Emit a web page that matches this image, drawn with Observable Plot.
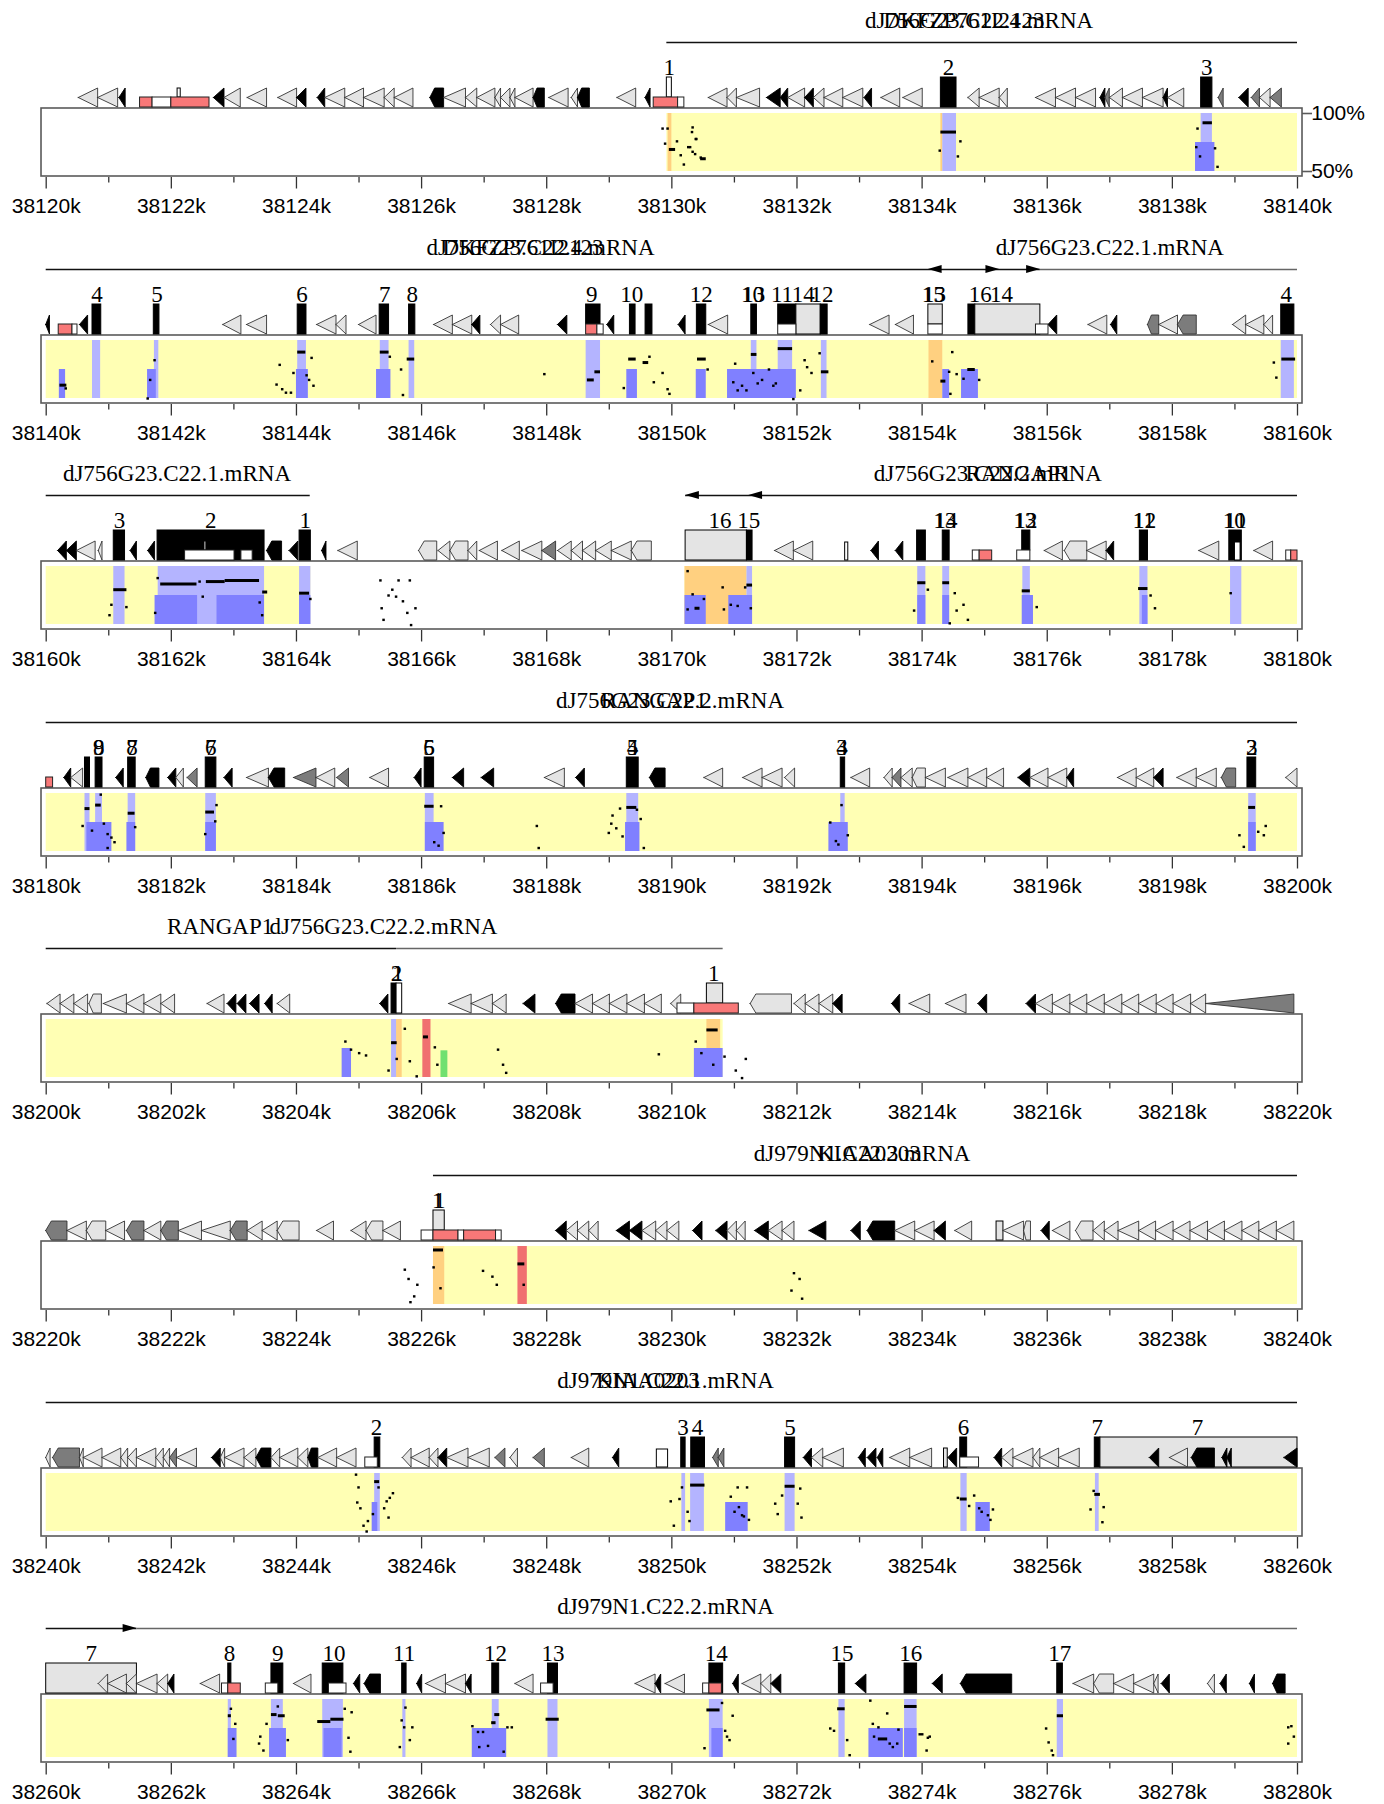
<!DOCTYPE html>
<html><head><meta charset="utf-8">
<script src="https://cdn.jsdelivr.net/npm/d3@7"></script>
<script src="https://cdn.jsdelivr.net/npm/@observablehq/plot@0.6"></script>
<style>
body{margin:0;background:#fff;}
#chart{position:relative;width:1384px;height:1804px;overflow:hidden;}
#chart svg{position:absolute;left:0;overflow:visible;}
</style></head><body><div id="chart"></div>
<script>
// ---------- data (kb offsets within each 20 kb panel) ----------
const panelStarts = [38120, 38140, 38160, 38180, 38200, 38220, 38240, 38260];
const yTicks = [100, 50];

const titles = [
  [0,14.91,"dJ756G23.C22.4.mRNA"],[0,14.67,"DKFZP761I2123"],
  [1,7.9,"dJ756G23.C22.4.mRNA"],[1,7.62,"DKFZP761I2123"],[1,17.0,"dJ756G23.C22.1.mRNA"],
  [2,2.09,"dJ756G23.C22.1.mRNA"],[2,15.05,"dJ756G23.C22.2.mRNA"],[2,15.54,"RANGAP1"],
  [3,9.97,"dJ756G23.C22.2.mRNA"],[3,9.71,"RANGAP1"],
  [4,2.78,"RANGAP1"],[4,5.39,"dJ756G23.C22.2.mRNA"],
  [5,13.04,"dJ979N1.C22.3.mRNA"],[5,13.15,"KIAA0203"],
  [6,9.9,"dJ979N1.C22.1.mRNA"],[6,9.62,"KIAA0203"],
  [7,9.9,"dJ979N1.C22.2.mRNA"]
];

const geneLines = [[0,9.92,20,"k"],[1,0,15.89,"k"],[1,15.89,20,"g"],[2,0,4.22,"k"],[2,10.22,20,"k"],
  [3,0,20,"k"],[4,0,5.6,"k"],[4,5.6,10.82,"g"],[5,6.19,20,"k"],[6,0,20,"k"],[7,0,1.45,"k"],[7,1.45,20,"g"]];
const arrows = [[1,14.1,"L"],[1,15.24,"R"],[1,15.89,"R"],[2,10.22,"L"],[2,11.23,"L"],[7,1.45,"R"]];

const yellowRegions = [[0,9.92,20],[1,0,20],[2,0,4.23],[2,10.21,20],[3,0,20],[4,0,10.82],[5,6.19,20],[6,0,20],[7,0,20]];

const exonLabels = [
  [0,9.96,"1"],[0,14.42,"2"],[0,18.55,"3"],
  [1,0.81,"4"],[1,1.77,"5"],[1,4.09,"6"],[1,5.41,"7"],[1,5.85,"8"],[1,8.72,"9"],[1,9.36,"10"],[1,10.47,"12"],
  [1,11.29,"10"],[1,11.31,"13"],[1,11.76,"11"],[1,12.1,"14"],[1,12.4,"12"],[1,14.18,"15"],[1,14.2,"13"],[1,14.93,"16"],[1,15.27,"14"],[1,19.82,"4"],
  [2,1.17,"3"],[2,2.63,"2"],[2,4.14,"1"],[2,10.77,"16"],[2,11.23,"15"],[2,14.36,"13"],[2,14.38,"14"],
  [2,15.64,"13"],[2,15.66,"12"],[2,17.54,"11"],[2,17.56,"12"],[2,18.99,"10"],[2,19.01,"11"],
  [3,0.84,"9"],[3,0.84,"8"],[3,1.37,"8"],[3,1.37,"7"],[3,2.63,"7"],[3,2.63,"6"],[3,6.12,"6"],[3,6.12,"5"],
  [3,9.37,"5"],[3,9.37,"4"],[3,12.72,"4"],[3,12.72,"3"],[3,19.27,"3"],[3,19.27,"2"],
  [4,5.6,"2"],[4,5.62,"1"],[4,10.67,"1"],
  [5,6.26,"1"],[5,6.29,"1"],
  [6,5.28,"2"],[6,10.18,"3"],[6,10.41,"4"],[6,11.89,"5"],[6,14.66,"6"],[6,16.8,"7"],[6,18.4,"7"],
  [7,0.72,"7"],[7,2.93,"8"],[7,3.7,"9"],[7,4.6,"10"],[7,5.72,"11"],[7,7.18,"12"],[7,8.1,"13"],
  [7,10.71,"14"],[7,12.72,"15"],[7,13.82,"16"],[7,16.2,"17"]
];

const exons = [
  [0,2.10,2.15,"mini"],[0,9.92,10.0,"open"],[0,14.30,14.55,"cod"],[0,18.46,18.64,"cod"],
  [1,0.74,0.88,"cod"],[1,1.72,1.81,"cod"],[1,4.02,4.16,"cod"],[1,5.33,5.48,"cod"],[1,5.8,5.9,"cod"],
  [1,8.63,8.86,"codT"],[1,9.33,9.42,"cod"],[1,9.58,9.69,"cod"],[1,10.4,10.55,"cod"],[1,11.27,11.36,"cod"],
  [1,11.7,11.99,"codT"],[1,11.99,12.38,"utr"],[1,12.38,12.49,"cod"],[1,14.1,14.33,"utrT"],
  [1,14.74,14.85,"cod"],[1,14.85,15.89,"utr"],[1,19.74,19.95,"cod"],
  [2,1.08,1.26,"cod"],[2,1.78,3.49,"cod"],[2,2.53,2.56,"mini"],[2,4.05,4.23,"cod"],[2,10.22,11.2,"utr"],
  [2,11.2,11.29,"cod"],[2,12.77,12.82,"miniF"],[2,13.92,14.06,"cod"],[2,14.33,14.44,"cod"],
  [2,15.6,15.73,"codT"],[2,17.48,17.61,"cod"],[2,18.91,19.11,"cod"],[2,19.0,19.09,"miniF"],
  [3,0.62,0.7,"cod"],[3,0.79,0.9,"cod"],[3,1.31,1.43,"cod"],[3,2.55,2.72,"cod"],[3,6.05,6.2,"cod"],
  [3,9.28,9.47,"cod"],[3,12.7,12.77,"cod"],[3,19.2,19.34,"cod"],
  [4,5.52,5.6,"cod"],[4,5.6,5.69,"openF"],[4,10.56,10.82,"utrT"],
  [5,6.19,6.37,"utrT"],[5,15.19,15.3,"miniL"],
  [6,5.25,5.34,"cod"],[6,9.76,9.94,"miniF"],[6,10.15,10.22,"cod"],[6,10.31,10.53,"cod"],[6,11.81,11.97,"cod"],
  [6,14.35,14.41,"miniL"],[6,14.61,14.72,"cod"],[6,16.76,16.85,"cod"],[6,16.85,20,"utr"],
  [7,0,1.45,"utr"],[7,2.91,2.96,"codT"],[7,3.6,3.79,"cod"],[7,4.42,4.75,"cod"],[7,5.69,5.76,"cod"],
  [7,7.13,7.24,"cod"],[7,8.02,8.18,"cod"],[7,10.6,10.82,"cod"],[7,12.67,12.77,"cod"],[7,13.72,13.92,"cod"],[7,16.16,16.25,"cod"]
];

const cpg = [
  [0,1.5,1.7,"r"],[0,1.7,2.0,"w"],[0,2.0,2.61,"r"],[0,9.71,10.1,"r"],[0,10.1,10.2,"w"],
  [1,0.2,0.42,"r"],[1,0.42,0.5,"w"],[1,8.63,8.81,"r"],[1,8.81,8.91,"w"],[1,11.7,11.99,"w"],[1,14.1,14.33,"w"],[1,15.82,16.02,"w"],
  [2,2.22,3.01,"w"],[2,3.12,3.3,"w"],[2,14.81,14.92,"w"],[2,14.92,15.12,"r"],[2,15.52,15.73,"w"],[2,19.82,19.9,"w"],[2,19.9,20,"r"],
  [3,0,0.11,"r"],
  [4,10.09,10.36,"w"],[4,10.36,11.07,"r"],
  [5,6.0,6.19,"w"],[5,6.19,6.59,"r"],[5,6.59,6.68,"w"],[5,6.68,7.19,"r"],[5,7.19,7.28,"w"],
  [6,5.1,5.3,"w"],[6,14.61,14.91,"w"],
  [7,2.81,2.91,"w"],[7,2.91,3.11,"r"],[7,3.51,3.71,"w"],[7,4.52,4.8,"w"],[7,7.91,8.11,"w"],[7,10.5,10.6,"w"],[7,10.6,10.8,"r"]
];

// repeats: L light, B black, D dark grey; suffix P = blunt (pentagon) shape
const repeats = [
  [0,0.52,0.83,"L"],[0,0.83,1.15,"L"],[0,1.17,1.27,"B"],[0,2.68,2.85,"B"],[0,2.85,3.11,"L"],[0,3.22,3.53,"L"],
  [0,3.71,4.01,"L"],[0,4.01,4.16,"B"],[0,4.34,4.46,"B"],[0,4.46,4.78,"L"],[0,4.78,5.08,"L"],[0,5.08,5.41,"L"],
  [0,5.41,5.57,"L"],[0,5.57,5.87,"L"],[0,6.14,6.36,"BP"],[0,6.36,6.71,"L"],[0,6.71,6.89,"L"],[0,6.89,7.18,"L"],
  [0,7.18,7.27,"L"],[0,7.27,7.42,"L"],[0,7.42,7.5,"L"],[0,7.5,7.79,"L"],[0,7.79,7.97,"BP"],[0,8.04,8.35,"L"],
  [0,8.4,8.5,"L"],[0,8.5,8.69,"BP"],[0,9.13,9.43,"L"],[0,9.58,9.66,"B"],
  [0,10.59,10.89,"L"],[0,10.89,11.04,"L"],[0,11.04,11.41,"L"],[0,11.52,11.74,"B"],[0,11.74,11.86,"B"],[0,11.86,12.13,"L"],
  [0,12.13,12.27,"B"],[0,12.27,12.44,"L"],[0,12.44,12.74,"L"],[0,12.74,13.06,"L"],[0,13.08,13.2,"B"],[0,13.35,13.65,"L"],
  [0,13.7,14.01,"L"],[0,14.74,14.92,"L"],[0,14.92,15.24,"L"],[0,15.24,15.37,"L"],[0,15.82,16.14,"L"],[0,16.14,16.46,"L"],
  [0,16.46,16.78,"L"],[0,16.85,16.93,"B"],[0,16.93,17.0,"D"],[0,17.0,17.21,"L"],[0,17.21,17.53,"L"],[0,17.53,17.86,"L"],
  [0,17.86,17.93,"B"],[0,17.93,18.19,"L"],[0,18.74,18.82,"D"],[0,19.07,19.22,"B"],[0,19.27,19.4,"D"],[0,19.4,19.57,"L"],[0,19.57,19.75,"D"],
  [1,0,0.06,"B"],[1,0.54,0.67,"B"],[1,2.83,3.12,"L"],[1,3.21,3.53,"L"],[1,4.33,4.64,"L"],[1,4.64,4.8,"L"],[1,5.0,5.28,"L"],
  [1,6.2,6.5,"L"],[1,6.5,6.81,"L"],[1,6.81,6.94,"B"],[1,7.11,7.27,"L"],[1,7.27,7.56,"L"],[1,8.18,8.33,"B"],[1,8.97,9.08,"B"],
  [1,10.11,10.22,"B"],[1,10.59,10.9,"L"],[1,13.17,13.48,"L"],[1,13.58,13.87,"L"],[1,16.02,16.16,"B"],[1,16.66,16.96,"L"],
  [1,17.02,17.12,"B"],[1,17.61,17.79,"DP"],[1,17.79,18.09,"L"],[1,18.09,18.39,"DP"],[1,18.97,19.18,"L"],[1,19.18,19.47,"L"],[1,19.47,19.61,"L"],
  [2,0.19,0.33,"B"],[2,0.33,0.49,"B"],[2,0.49,0.79,"L"],[2,0.84,0.9,"L"],[2,1.35,1.45,"B"],[2,1.63,1.74,"B"],[2,3.53,3.77,"BP"],
  [2,3.89,4.03,"B"],[2,4.41,4.48,"B"],[2,4.67,4.98,"L"],[2,5.96,6.25,"LP"],[2,6.27,6.46,"L"],[2,6.46,6.75,"LP"],[2,6.75,6.89,"L"],
  [2,6.93,7.22,"L"],[2,7.29,7.57,"L"],[2,7.61,7.93,"L"],[2,7.93,8.15,"D"],[2,8.18,8.4,"L"],[2,8.4,8.58,"L"],[2,8.58,8.79,"L"],
  [2,8.79,9.04,"L"],[2,9.04,9.36,"L"],[2,9.36,9.68,"LP"],[2,11.65,11.95,"L"],[2,11.95,12.26,"L"],[2,13.19,13.31,"B"],
  [2,13.58,13.7,"B"],[2,15.96,16.25,"L"],[2,16.28,16.64,"LP"],[2,16.64,16.95,"L"],[2,16.95,17.07,"B"],[2,18.43,18.75,"L"],[2,19.31,19.61,"L"],
  [3,0.29,0.4,"B"],[3,0.4,0.59,"L"],[3,1.12,1.24,"B"],[3,1.6,1.81,"BP"],[3,1.95,2.08,"B"],[3,2.08,2.2,"L"],[3,2.26,2.42,"D"],
  [3,2.85,2.98,"B"],[3,3.21,3.56,"L"],[3,3.56,3.82,"BP"],[3,3.96,4.32,"D"],[3,4.32,4.62,"L"],[3,4.65,4.84,"D"],[3,5.18,5.48,"L"],
  [3,5.89,6.0,"B"],[3,6.5,6.68,"B"],[3,6.96,7.16,"B"],[3,7.97,8.29,"L"],[3,8.47,8.61,"B"],[3,9.65,9.9,"BP"],
  [3,10.52,10.82,"L"],[3,11.14,11.45,"L"],[3,11.45,11.77,"L"],[3,11.81,11.97,"L"],[3,12.87,13.17,"L"],[3,13.4,13.53,"L"],
  [3,13.53,13.67,"D"],[3,13.67,13.85,"L"],[3,13.85,14.06,"LP"],[3,14.06,14.38,"L"],[3,14.42,14.74,"L"],[3,14.74,15.04,"L"],
  [3,15.04,15.31,"L"],[3,15.54,15.73,"B"],[3,15.73,16.02,"L"],[3,16.02,16.32,"L"],[3,16.32,16.43,"B"],[3,17.13,17.43,"L"],
  [3,17.43,17.71,"L"],[3,17.71,17.86,"B"],[3,18.08,18.39,"L"],[3,18.39,18.71,"L"],[3,18.79,19.02,"DP"],[3,19.82,20.0,"L"],
  [4,0.02,0.23,"L"],[4,0.23,0.45,"L"],[4,0.45,0.67,"L"],[4,0.69,0.89,"LP"],[4,0.92,1.29,"L"],[4,1.29,1.57,"L"],[4,1.57,1.84,"L"],
  [4,1.84,2.06,"L"],[4,2.58,2.85,"L"],[4,2.9,3.04,"B"],[4,3.06,3.2,"B"],[4,3.26,3.41,"B"],[4,3.5,3.62,"B"],[4,3.7,3.9,"L"],
  [4,5.34,5.47,"B"],[4,6.44,6.8,"L"],[4,6.8,7.14,"L"],[4,7.14,7.36,"L"],[4,7.63,7.82,"B"],[4,8.15,8.46,"BP"],[4,8.46,8.74,"L"],
  [4,8.74,9.01,"L"],[4,9.01,9.29,"L"],[4,9.29,9.57,"L"],[4,9.57,9.84,"L"],[4,9.99,10.15,"L"],[4,11.26,11.92,"LP"],
  [4,11.96,12.14,"L"],[4,12.14,12.36,"L"],[4,12.36,12.58,"L"],[4,12.58,12.73,"B"],[4,13.52,13.65,"B"],[4,13.8,14.13,"L"],
  [4,14.38,14.71,"L"],[4,14.9,15.04,"B"],[4,15.67,15.82,"B"],[4,15.82,16.09,"L"],[4,16.09,16.37,"L"],[4,16.37,16.64,"L"],
  [4,16.64,16.92,"L"],[4,16.92,17.2,"L"],[4,17.2,17.47,"L"],[4,17.47,17.75,"L"],[4,17.75,18.02,"L"],[4,18.02,18.3,"L"],
  [4,18.3,18.54,"L"],[4,18.54,19.95,"D"],
  [5,0,0.34,"DP"],[5,0.34,0.65,"L"],[5,0.65,0.96,"LP"],[5,0.96,1.26,"L"],[5,1.29,1.57,"DP"],[5,1.57,1.84,"L"],[5,1.84,2.12,"DP"],
  [5,2.12,2.49,"L"],[5,2.49,2.95,"L"],[5,2.95,3.22,"DP"],[5,3.22,3.46,"L"],[5,3.46,3.7,"L"],[5,3.7,4.05,"LP"],[5,4.33,4.6,"L"],
  [5,4.88,5.12,"L"],[5,5.12,5.39,"LP"],[5,5.39,5.67,"L"],[5,8.15,8.32,"B"],[5,8.32,8.5,"L"],[5,8.5,8.68,"L"],[5,8.68,8.83,"L"],
  [5,9.12,9.33,"B"],[5,9.33,9.53,"B"],[5,9.53,9.75,"L"],[5,9.75,9.93,"L"],[5,9.93,10.12,"L"],[5,10.34,10.49,"B"],
  [5,10.71,10.89,"B"],[5,10.89,11.04,"L"],[5,11.04,11.18,"L"],[5,11.33,11.55,"B"],[5,11.55,11.77,"L"],[5,11.77,11.96,"L"],
  [5,12.2,12.47,"B"],[5,12.87,13.02,"B"],[5,13.13,13.57,"BP"],[5,13.57,13.89,"L"],[5,13.89,14.2,"L"],[5,14.2,14.38,"B"],
  [5,14.53,14.8,"L"],[5,15.3,15.63,"L"],[5,15.63,15.74,"LP"],[5,15.91,16.04,"B"],[5,16.09,16.37,"L"],[5,16.46,16.74,"LP"],
  [5,16.74,16.92,"L"],[5,16.92,17.14,"L"],[5,17.14,17.47,"L"],[5,17.47,17.74,"L"],[5,17.74,18.02,"L"],[5,18.02,18.29,"L"],
  [5,18.29,18.57,"L"],[5,18.57,18.84,"L"],[5,18.84,19.12,"L"],[5,19.12,19.39,"L"],[5,19.39,19.67,"L"],[5,19.67,19.95,"L"],
  [6,0,0.07,"L"],[6,0.11,0.54,"DP"],[6,0.54,0.6,"L"],[6,0.6,0.9,"L"],[6,0.9,1.2,"L"],[6,1.2,1.31,"L"],[6,1.31,1.45,"L"],
  [6,1.45,1.76,"L"],[6,1.76,1.88,"L"],[6,1.88,1.98,"L"],[6,1.98,2.09,"D"],[6,2.09,2.41,"L"],[6,2.65,2.79,"B"],[6,2.79,2.86,"L"],
  [6,2.86,3.17,"L"],[6,3.17,3.36,"L"],[6,3.36,3.6,"BP"],[6,3.6,3.74,"L"],[6,3.74,4.03,"L"],[6,4.03,4.19,"L"],[6,4.19,4.35,"BP"],
  [6,4.35,4.65,"L"],[6,4.65,4.96,"L"],[6,5.7,5.84,"L"],[6,5.84,6.13,"L"],[6,6.13,6.27,"L"],[6,6.27,6.41,"B"],[6,6.41,6.75,"L"],
  [6,6.75,7.09,"L"],[6,7.18,7.34,"D"],[6,7.42,7.54,"L"],[6,7.79,7.97,"D"],[6,8.4,8.68,"L"],[6,9.06,9.16,"B"],
  [6,10.66,10.75,"D"],[6,10.75,10.84,"D"],[6,12.11,12.24,"B"],[6,12.24,12.42,"L"],[6,12.42,12.75,"L"],[6,12.99,13.1,"B"],
  [6,13.13,13.27,"B"],[6,13.29,13.38,"B"],[6,13.49,13.81,"L"],[6,13.81,14.16,"L"],[6,14.42,14.56,"B"],[6,15.16,15.28,"B"],
  [6,15.28,15.46,"L"],[6,15.46,15.78,"L"],[6,15.78,15.89,"L"],[6,15.89,16.19,"L"],[6,16.19,16.52,"L"],[6,17.64,17.79,"B"],
  [6,17.96,18.25,"L"],[6,18.31,18.68,"BP"],[6,18.8,18.88,"B"],[6,18.88,18.95,"B"],[6,19.79,20,"B"],
  [7,0.84,0.99,"L"],[7,0.99,1.29,"L"],[7,1.29,1.45,"L"],[7,1.45,1.78,"L"],[7,1.78,1.95,"L"],[7,1.95,2.05,"B"],[7,2.47,2.78,"L"],
  [7,3.96,4.24,"L"],[7,4.92,5.02,"B"],[7,5.09,5.35,"BP"],[7,5.93,6.01,"B"],[7,6.07,6.39,"L"],[7,6.39,6.71,"L"],[7,6.71,6.8,"B"],
  [7,7.5,7.79,"L"],[7,9.42,9.74,"L"],[7,9.74,9.83,"B"],[7,9.9,10.21,"L"],[7,10.98,11.07,"B"],[7,11.13,11.43,"L"],[7,11.43,11.59,"L"],
  [7,11.59,11.75,"B"],[7,12.94,13.11,"B"],[7,14.17,14.33,"B"],[7,14.62,15.44,"BP"],[7,16.42,16.75,"L"],[7,16.75,17.07,"LP"],
  [7,17.07,17.39,"L"],[7,17.39,17.71,"L"],[7,17.71,17.78,"L"],[7,17.83,17.96,"B"],[7,18.57,18.68,"L"],[7,18.77,18.87,"B"],
  [7,19.24,19.32,"B"],[7,19.61,19.81,"BP"]
];

// shaded bands in the identity plot
const bands = [
  [0,9.94,10.0,"utr"],[0,14.3,14.33,"utr"],[0,14.33,14.55,"exon"],[0,18.46,18.64,"exon"],[0,18.37,18.68,"cns"],
  [1,0.21,0.31,"cns"],[1,0.74,0.87,"exon"],[1,1.73,1.8,"exon"],[1,1.62,1.76,"cns"],[1,4.02,4.16,"exon"],[1,4.0,4.19,"cns"],
  [1,5.34,5.48,"exon"],[1,5.28,5.51,"cns"],[1,5.8,5.89,"exon"],[1,8.63,8.86,"exon"],[1,9.28,9.45,"cns"],[1,10.39,10.55,"cns"],
  [1,11.27,11.36,"exon"],[1,10.89,11.99,"cns"],[1,11.7,11.93,"exon"],[1,12.39,12.48,"exon"],[1,14.11,14.33,"utr"],
  [1,14.33,14.44,"cns"],[1,14.63,14.9,"cns"],[1,19.74,19.95,"exon"],
  [2,1.08,1.26,"exon"],[2,1.79,3.49,"exon"],[2,1.74,2.42,"cns"],[2,2.73,3.49,"cns"],[2,4.05,4.23,"exon"],[2,4.05,4.23,"cns"],
  [2,10.21,11.2,"utr"],[2,10.21,10.55,"cns"],[2,10.91,11.29,"cns"],[2,11.2,11.29,"exon"],[2,13.93,14.06,"exon"],[2,13.93,14.06,"cns"],
  [2,14.33,14.44,"exon"],[2,14.33,14.44,"cns"],[2,15.61,15.73,"exon"],[2,15.6,15.78,"cns"],[2,17.48,17.61,"exon"],[2,17.52,17.61,"cns"],
  [2,18.93,19.11,"exon"],
  [3,0.62,0.7,"exon"],[3,0.79,0.9,"exon"],[3,0.65,1.05,"cns"],[3,1.31,1.43,"exon"],[3,1.29,1.43,"cns"],[3,2.55,2.72,"exon"],
  [3,2.55,2.72,"cns"],[3,6.06,6.2,"exon"],[3,6.06,6.36,"cns"],[3,9.28,9.47,"exon"],[3,9.26,9.49,"cns"],[3,12.7,12.77,"exon"],
  [3,12.51,12.82,"cns"],[3,19.22,19.34,"exon"],[3,19.22,19.34,"cns"],
  [4,4.73,4.88,"cns"],[4,5.52,5.6,"exon"],[4,5.6,5.69,"utr"],[4,6.02,6.15,"red"],[4,6.31,6.42,"green"],[4,10.56,10.78,"utrT"],[4,10.36,10.82,"cns"],
  [5,6.19,6.37,"utr"],[5,7.54,7.69,"red"],
  [6,5.25,5.34,"exon"],[6,5.21,5.3,"cns"],[6,10.16,10.22,"exon"],[6,10.3,10.52,"exon"],[6,10.86,11.22,"cns"],[6,11.81,11.97,"exon"],
  [6,14.62,14.72,"exon"],[6,14.86,15.09,"cns"],[6,16.77,16.83,"exon"],
  [7,2.91,2.96,"exon"],[7,2.91,3.05,"cns"],[7,3.6,3.79,"exon"],[7,3.57,3.84,"cns"],[7,4.42,4.75,"exon"],[7,4.44,4.73,"cns"],
  [7,5.7,5.75,"exon"],[7,7.13,7.24,"exon"],[7,6.81,7.36,"cns"],[7,8.02,8.18,"exon"],[7,10.6,10.82,"exon"],[7,10.64,10.82,"cns"],
  [7,12.67,12.77,"exon"],[7,13.15,13.7,"cns"],[7,13.72,13.92,"exon"],[7,13.72,13.92,"cns"],[7,16.16,16.26,"exon"]
];

// gap-free alignment segments: [panel, start, end, percent identity]
const segments = [
  [0,9.96,10.06,69],[0,10.46,10.55,61],[0,14.3,14.55,84],[0,18.49,18.64,92],
  [1,0.22,0.33,61.5],[1,4.02,4.15,90],[1,5.34,5.48,90],[1,5.77,5.89,84],[1,8.65,8.76,66],[1,8.77,8.86,73],[1,9.31,9.43,84],
  [1,9.54,9.63,81],[1,10.41,10.55,84],[1,11.27,11.36,88],[1,11.7,11.93,93],[1,12.39,12.51,73],[1,14.3,14.38,65],[1,14.73,14.85,75],[1,19.75,19.97,84],
  [2,1.08,1.29,80],[2,1.83,2.41,85],[2,2.56,2.86,87],[2,2.86,3.41,88],[2,3.46,3.54,78],[2,4.05,4.21,77],[2,10.37,10.45,64],
  [2,11.2,11.29,84],[2,13.93,14.06,86],[2,14.33,14.44,86],[2,15.6,15.73,79],[2,17.46,17.61,81],
  [3,0.62,0.7,87],[3,0.79,0.88,90],[3,1.31,1.42,83],[3,2.55,2.69,84],[3,6.05,6.2,89],[3,9.28,9.44,88],[3,19.22,19.33,88],
  [4,5.52,5.61,80],[4,6.03,6.11,85],[4,10.56,10.74,91],
  [5,6.19,6.35,97],[5,7.54,7.65,85],
  [6,5.25,5.33,93],[6,10.3,10.53,90],[6,11.81,11.97,89],[6,14.61,14.72,78],[6,16.76,16.85,82],
  [7,2.91,2.96,86],[7,3.6,3.69,87],[7,3.71,3.82,86],[7,4.34,4.55,81],[7,4.55,4.76,83],[7,7.12,7.19,80],[7,7.17,7.25,87],
  [7,7.99,8.2,83],[7,10.56,10.77,91],[7,12.65,12.77,92],[7,13.3,13.45,66],[7,13.72,13.92,94],[7,16.16,16.26,86]
];

// short alignments: [panel, position, percent identity]
const dots = [
  [0,9.86,87],[0,9.94,87],[0,9.9,74],[0,10.09,76],[0,10.15,64],[0,10.2,56],[0,10.3,71],[0,10.33,84],[0,10.38,65],[0,10.4,78],
  [0,10.47,62],[0,10.34,88],[0,10.39,78],[0,10.34,67],[0,10.27,71],[0,14.62,76],[0,14.58,63],[0,14.29,68],[0,18.41,87],
  [0,18.45,63],[0,18.69,70],[0,18.73,54],[0,18.39,71],
  [1,0.32,58.7],[1,1.63,50],[1,1.67,66],[1,1.74,83],[1,3.69,62],[1,3.78,58],[1,3.84,55],[1,3.92,55],[1,3.96,72],[1,4.17,70],
  [1,4.21,66],[1,4.28,61],[1,4.25,85],[1,3.74,79],[1,5.5,86],[1,5.68,75],[1,5.71,53],[1,7.97,71],[1,9.65,86],[1,9.24,59],
  [1,9.72,64],[1,9.94,58],[1,9.97,54],[1,9.86,72],[1,10.58,75],[1,11.02,80],[1,10.99,64],[1,11.06,57],[1,11.13,61],[1,11.2,57],
  [1,11.31,72],[1,11.38,63],[1,11.45,66],[1,11.56,75],[1,11.63,61],[1,11.67,63],[1,11.95,49.5],[1,12.13,83],[1,12.17,77],
  [1,12.24,72],[1,12.37,89],[1,12.06,57],[1,14.17,82],[1,14.44,73],[1,14.49,90],[1,14.56,71],[1,14.46,54],[1,14.92,66],
  [1,14.67,67],[1,19.63,81],[1,19.67,68],
  [2,1.05,67],[2,1.02,58],[2,1.29,65],[2,1.79,90],[2,1.75,60],[2,2.46,87],[2,2.51,74],[2,3.42,69],[2,3.46,58],[2,4.23,72],
  [2,5.48,75],[2,5.6,74],[2,5.54,80],[2,5.71,70],[2,5.78,60],[2,5.91,64],[2,5.84,49.5],[2,5.37,64],[2,5.4,54],[2,5.82,88],
  [2,5.64,88],[2,5.35,88],[2,10.26,96],[2,10.26,63],[2,10.34,76],[2,10.52,72],[2,10.82,82],[2,10.84,63],[2,10.95,67],
  [2,11.06,66],[2,11.18,82],[2,11.27,64],[2,14.1,80],[2,13.88,62],[2,14.53,77],[2,14.56,62],[2,14.45,51],[2,14.74,54],
  [2,14.67,67],[2,15.84,65],[2,17.66,75],[2,17.73,64],[2,18.94,77],
  [3,0.59,72],[3,0.88,99],[3,0.74,68],[3,0.93,74],[3,0.99,65],[3,1.05,62],[3,0.99,53],[3,1.1,58],[3,1.43,71],[3,2.71,76],
  [3,2.55,65],[3,2.73,90],[3,6.21,58],[3,6.28,55],[3,6.36,66],[3,6.32,89],[3,7.85,72],[3,7.88,53],[3,9.0,66],[3,9.06,81],
  [3,9.12,70],[3,9.04,74],[3,9.18,87],[3,9.22,63],[3,9.45,86],[3,9.51,78],[3,9.56,53],[3,12.72,90],[3,12.54,75],[3,12.63,59],
  [3,12.67,56],[3,12.82,64],[3,19.15,54],[3,19.38,67],[3,19.5,72],[3,19.47,64],[3,19.08,64],
  [4,4.88,74],[4,5.01,71],[4,5.12,69],[4,4.79,81],[4,5.61,66],[4,5.48,56],[4,5.74,92],[4,5.82,64],[4,5.93,51],[4,6.22,76],
  [4,6.26,61],[4,7.23,74],[4,7.31,61],[4,7.36,54],[4,9.8,70],[4,10.48,71],[4,10.67,61],[4,10.85,68],[4,11.03,56],[4,11.13,49.5],
  [4,10.39,81],[4,11.19,66],
  [5,5.74,80],[5,5.8,72],[5,5.89,57],[5,5.83,52],[5,5.94,67],[5,6.2,82],[5,6.31,64],[5,6.99,79],[5,7.14,74],[5,7.21,67],
  [5,7.64,67],[5,11.96,77],[5,12.05,72],[5,11.92,62],[5,12.09,55],
  [6,4.96,99],[6,5.0,88],[6,4.98,75],[6,5.03,70],[6,5.08,55],[6,5.13,50],[6,5.15,59],[6,5.32,88],[6,5.41,70],[6,5.45,76],
  [6,5.5,79],[6,5.55,83],[6,5.48,62],[6,5.23,65],[6,9.99,76],[6,10.04,55],[6,10.13,78],[6,10.17,88],[6,10.26,67],[6,10.29,59],
  [6,10.95,80],[6,11.01,67],[6,11.08,71],[6,11.13,64],[6,11.16,63],[6,11.24,60],[6,11.06,88],[6,11.21,88],[6,11.66,74],
  [6,11.7,65],[6,11.77,81],[6,12.06,87],[6,12.08,62],[6,12.02,74],[6,14.58,79],[6,14.76,72],[6,14.84,81],[6,14.92,70],
  [6,14.96,67],[6,15.06,64],[6,15.1,60],[6,15.14,69],[6,16.7,69],[6,16.75,85],[6,16.91,71],[6,16.89,58],
  [7,2.96,92],[7,3.0,66],[7,3.03,79],[7,3.71,94],[7,3.53,79],[7,3.43,68],[7,3.41,62],[7,3.48,56],[7,3.87,65],[7,4.78,92],
  [7,4.89,89],[7,4.84,67],[7,4.87,55],[7,5.69,82],[7,5.75,93],[7,5.73,76],[7,5.86,76],[7,5.82,65],[7,5.66,59],[7,6.82,77],
  [7,6.91,72],[7,6.99,72],[7,7.07,60],[7,7.32,55],[7,7.38,76],[7,7.45,76],[7,6.93,59],[7,10.81,97],[7,10.53,58],[7,10.89,68],
  [7,10.93,65],[7,10.98,86],[7,10.86,73],[7,12.54,75],[7,12.6,73],[7,12.85,52],[7,12.81,65],[7,13.18,99],[7,13.22,79],
  [7,13.31,76],[7,13.45,88],[7,13.49,62],[7,13.54,59],[7,13.61,62],[7,13.63,74],[7,13.24,68],[7,13.97,70],[7,14.01,70],
  [7,14.1,67],[7,14.13,68],[7,14.08,56],[7,15.99,75],[7,16.03,63],[7,16.08,56],[7,16.1,52],[7,19.86,76],[7,19.95,68],
  [7,19.86,62],[7,19.91,77]
];

// ---------- styles / layout ----------
const PANEL_STEP = 226.6, PANEL_H = 227;
const row = px => 100 - (px - 113) * 50 / 58;   // layout rows expressed in y-scale units
const REP_TOP = row(88), REP_BOT = row(107), REP_MID = (REP_TOP + REP_BOT) / 2;
const GENE_Y = row(42), ARW_H = 4 * 50 / 58;
const SERIF = "Liberation Serif, Times New Roman, serif";
const SANS = "Liberation Sans, Arial, Helvetica, sans-serif";
const boxStyle = {
  cod:{fill:"black",top:77,bot:107}, codT:{fill:"black",top:77,bot:97},
  utr:{fill:"#e4e4e4",top:77,bot:107}, utrT:{fill:"#e4e4e4",top:77,bot:97},
  open:{fill:"white",top:77,bot:97}, openF:{fill:"white",top:77,bot:107},
  mini:{fill:"white",top:88,bot:97}, miniF:{fill:"white",top:89,bot:107}, miniL:{fill:"#e4e4e4",top:88,bot:107}
};
const bandStyle = {utr:["#ffd080",50,100], utrT:["#ffd080",75,100], exon:["#b4b4ff",50,100],
  cns:["#8080ff",50,75], red:["#f07070",50,100], green:["#70e070",50,73]};
const bandOrder = ["utr","utrT","exon","cns","red","green"];
const repStyle = {L:["#e4e4e4","#333"], B:["black","black"], D:["#7c7c7c","#333"]};

function repeatPoints(list, S) {
  const pts = [];
  list.forEach((d, k) => {
    const [, a, b, t] = d;
    const [fill, stroke] = repStyle[t[0]];
    if (t.length > 1) {
      const tip = Math.min(0.09, (b - a) * 0.35);
      pts.push({id:k, x:S+a, lo:REP_MID, hi:REP_MID, fill, stroke},
               {id:k, x:S+a+tip, lo:REP_BOT, hi:REP_TOP, fill, stroke},
               {id:k, x:S+b, lo:REP_BOT, hi:REP_TOP, fill, stroke});
    } else {
      pts.push({id:k, x:S+a, lo:REP_MID, hi:REP_MID, fill, stroke},
               {id:k, x:S+b, lo:REP_BOT, hi:REP_TOP, fill, stroke});
    }
  });
  return pts;
}
function arrowPoints(list, S) {
  const w = 0.22, pts = [];
  list.forEach((d, k) => {
    const x = S + d[1];
    if (d[2] === "L") pts.push({id:k, x, lo:GENE_Y, hi:GENE_Y}, {id:k, x:x+w, lo:GENE_Y-ARW_H, hi:GENE_Y+ARW_H});
    else pts.push({id:k, x:x-w, lo:GENE_Y-ARW_H, hi:GENE_Y+ARW_H}, {id:k, x, lo:GENE_Y, hi:GENE_Y});
  });
  return pts;
}

function panel(i) {
  const S = panelStarts[i], E = S + 20;
  const P = arr => arr.filter(d => d[0] === i);
  const major = d3.range(S, E + 1, 2), minor = d3.range(S + 1, E, 2);
  const myBands = P(bands).sort((a, b) => bandOrder.indexOf(a[3]) - bandOrder.indexOf(b[3]));
  const marks = [
    Plot.rect(P(yellowRegions), {x1: d => S + d[1], x2: d => S + d[2], y1: () => 50, y2: () => 100, fill: "#ffffb4"}),
    Plot.rect(myBands, {x1: d => S + d[1], x2: d => S + d[2], y1: d => bandStyle[d[3]][1], y2: d => bandStyle[d[3]][2], fill: d => bandStyle[d[3]][0]}),
    Plot.rect([0], {x1: () => S - 0.075, x2: () => E + 0.08, y1: () => row(176), y2: () => row(108), fill: "none", stroke: "#5a5a5a", strokeWidth: 1.6}),
    Plot.ruleY(P(segments), {x1: d => S + d[1], x2: d => S + d[2], y: d => d[3], stroke: "black", strokeWidth: 3}),
    Plot.ruleY(P(dots), {x1: d => S + d[1] - 0.02, x2: d => S + d[1] + 0.02, y: d => d[2], stroke: "black", strokeWidth: 2.4}),
    Plot.ruleY(P(geneLines), {x1: d => S + d[1], x2: d => S + d[2], y: () => GENE_Y, stroke: d => d[3] === "k" ? "#111" : "#666", strokeWidth: 1.6}),
    Plot.areaY(arrowPoints(P(arrows), S), {x: "x", y1: "lo", y2: "hi", z: "id", fill: "black", curve: "linear"}),
    Plot.rect(P(exons), {x1: d => S + d[1], x2: d => S + d[2], y1: d => row(boxStyle[d[3]].bot), y2: d => row(boxStyle[d[3]].top),
      fill: d => boxStyle[d[3]].fill, stroke: "black", strokeWidth: 1}),
    Plot.areaY(repeatPoints(P(repeats), S), {x: "x", y1: "lo", y2: "hi", z: "id", fill: "fill", stroke: "stroke", strokeWidth: 0.9, curve: "linear"}),
    Plot.rect(P(cpg), {x1: d => S + d[1], x2: d => S + d[2], y1: () => row(107), y2: () => row(97),
      fill: d => d[3] === "r" ? "#f87878" : "white", stroke: "#222", strokeWidth: 1}),
    Plot.text(P(exonLabels), {x: d => S + d[1], y: () => row(67.6), text: d => d[2], fontFamily: SERIF, fontSize: 23, fill: "black"}),
    Plot.text(P(titles), {x: d => S + d[1], y: () => row(20.1), text: d => d[2], fontFamily: SERIF, fontSize: 23, fill: "black"}),
    Plot.ruleX(major, {x: d => d, y1: () => row(177), y2: () => row(188.5), stroke: "#333", strokeWidth: 1.3}),
    Plot.ruleX(minor, {x: d => d, y1: () => row(177), y2: () => row(182.5), stroke: "#333", strokeWidth: 1.3}),
    Plot.text(major, {x: d => d, y: () => row(205.5), text: d => d + "k", fontFamily: SANS, fontSize: 21, fill: "black"})
  ];
  if (i === 0) {
    marks.push(
      Plot.ruleY(yTicks, {y: d => d, x1: () => E + 0.08, x2: () => E + 0.24, stroke: "#5a5a5a", strokeWidth: 1.6}),
      Plot.text(yTicks, {y: d => d, x: () => E + 0.22, text: d => d + "%", textAnchor: "start", fontFamily: SANS, fontSize: 21, fill: "black"})
    );
  }
  return Plot.plot({
    width: 1384, height: PANEL_H,
    marginLeft: 45.7, marginRight: 87, marginTop: 0, marginBottom: 50,
    x: {domain: [S, E], axis: null},
    y: {domain: [50, 100], range: [171, 113], axis: null},
    color: {type: "identity"},
    style: {background: "transparent", overflow: "visible"},
    marks
  });
}

const chart = document.getElementById("chart");
panelStarts.forEach((s, i) => {
  const svg = panel(i);
  svg.style.top = (i * PANEL_STEP) + "px";
  chart.appendChild(svg);
});
</script>
</body></html>
